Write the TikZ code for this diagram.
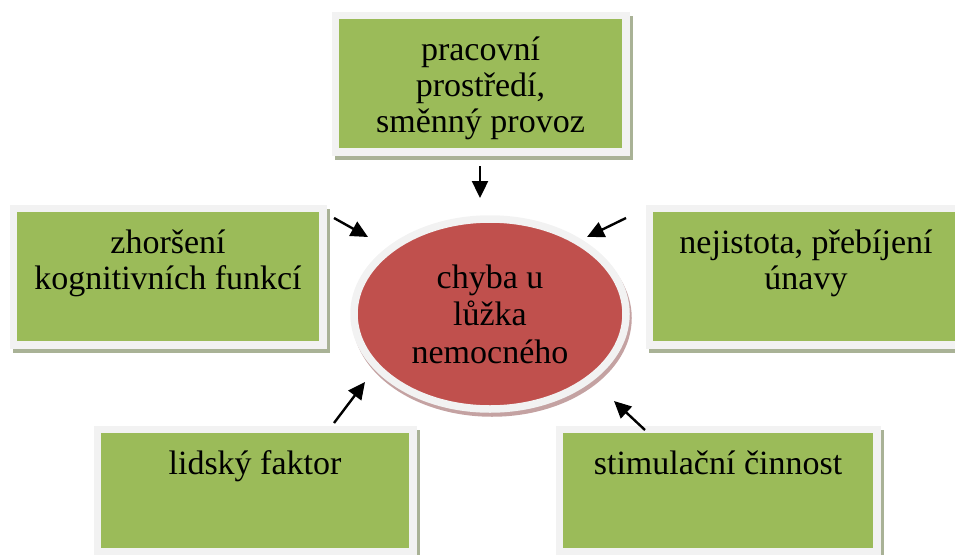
\documentclass[tikz,border=0pt]{standalone}
\usepackage{fontspec}
\setmainfont{Liberation Serif}
\usetikzlibrary{arrows.meta,positioning,shapes.geometric}
\definecolor{boxgreen}{HTML}{9BBB59}
\definecolor{framegray}{HTML}{F2F2F2}
\definecolor{shadegreen}{HTML}{A9B296}
\definecolor{errred}{HTML}{C0504D}
\definecolor{shadered}{HTML}{C4A2A2}

\begin{document}
\begin{tikzpicture}[x=1pt,y=-1pt,font=\fontsize{34}{36}\selectfont,
  factor/.style={draw=framegray,fill=boxgreen,line width=7.5pt,inner sep=0pt,outer sep=0pt,
    minimum height=136.5pt,
    preaction={draw=shadegreen,fill=shadegreen,transform canvas={shift={(3.5pt,-4pt)}}}},
  lbl/.style={align=center,inner sep=0pt,anchor=north},
  errnode/.style={ellipse,draw=framegray,fill=errred,line width=7.5pt,inner sep=0pt,outer sep=0pt,
    minimum width=272pt,minimum height=190pt,align=center,
    font=\fontsize{34}{37.5}\selectfont,
    preaction={draw=shadered,fill=shadered,transform canvas={shift={(2pt,-4pt)}}}},
  arr/.style={-{Triangle[length=17pt,width=16pt]},line width=2.4pt}]
  \useasboundingbox (0,0) rectangle (955,554);
  \clip (0,0) rectangle (955,554);

  % faktory
  \node[factor,minimum width=290.5pt] (env) at (480.5,83.5) {};
  \node[factor,minimum width=309.5pt] (cogn) at (168,276.5) {};
  \node[factor,minimum width=313.5pt] (fatig) at (806,276.5) {};
  \node[factor,minimum width=315.5pt,minimum height=122.5pt] (human) at (255,490.5) {};
  \node[factor,minimum width=317.5pt,minimum height=122.5pt] (stim) at (718,490.5) {};

  \node[lbl,below=21pt of env.north] (envtxt) {pracovní\\ prostředí,\\ směnný provoz};
  \node[lbl,below=21pt of cogn.north] (cogntxt) {zhoršení\\ kognitivních funkcí};
  \node[lbl,below=21pt of fatig.north] (fatigtxt) {nejistota, přebíjení\\ únavy};
  \node[lbl,below=21pt of human.north] (humantxt) {lidský faktor};
  \node[lbl,below=21pt of stim.north] (stimtxt) {stimulační činnost};

  % chyba
  \node[errnode] (err) at (490,314) {chyba u\\ lůžka\\ nemocného};

  \coordinate (a1) at (480,166);  \coordinate (b1) at (480,198);
  \coordinate (a2) at (334,218);  \coordinate (b2) at (368,237);
  \coordinate (a3) at (626,218);  \coordinate (b3) at (587,237);
  \coordinate (a4) at (334,423);  \coordinate (b4) at (365,382);
  \coordinate (a5) at (645,430);  \coordinate (b5) at (614,401);
  \foreach \i in {1,...,5}
    \draw[arr] (a\i) -- (b\i);
\end{tikzpicture}
\end{document}
